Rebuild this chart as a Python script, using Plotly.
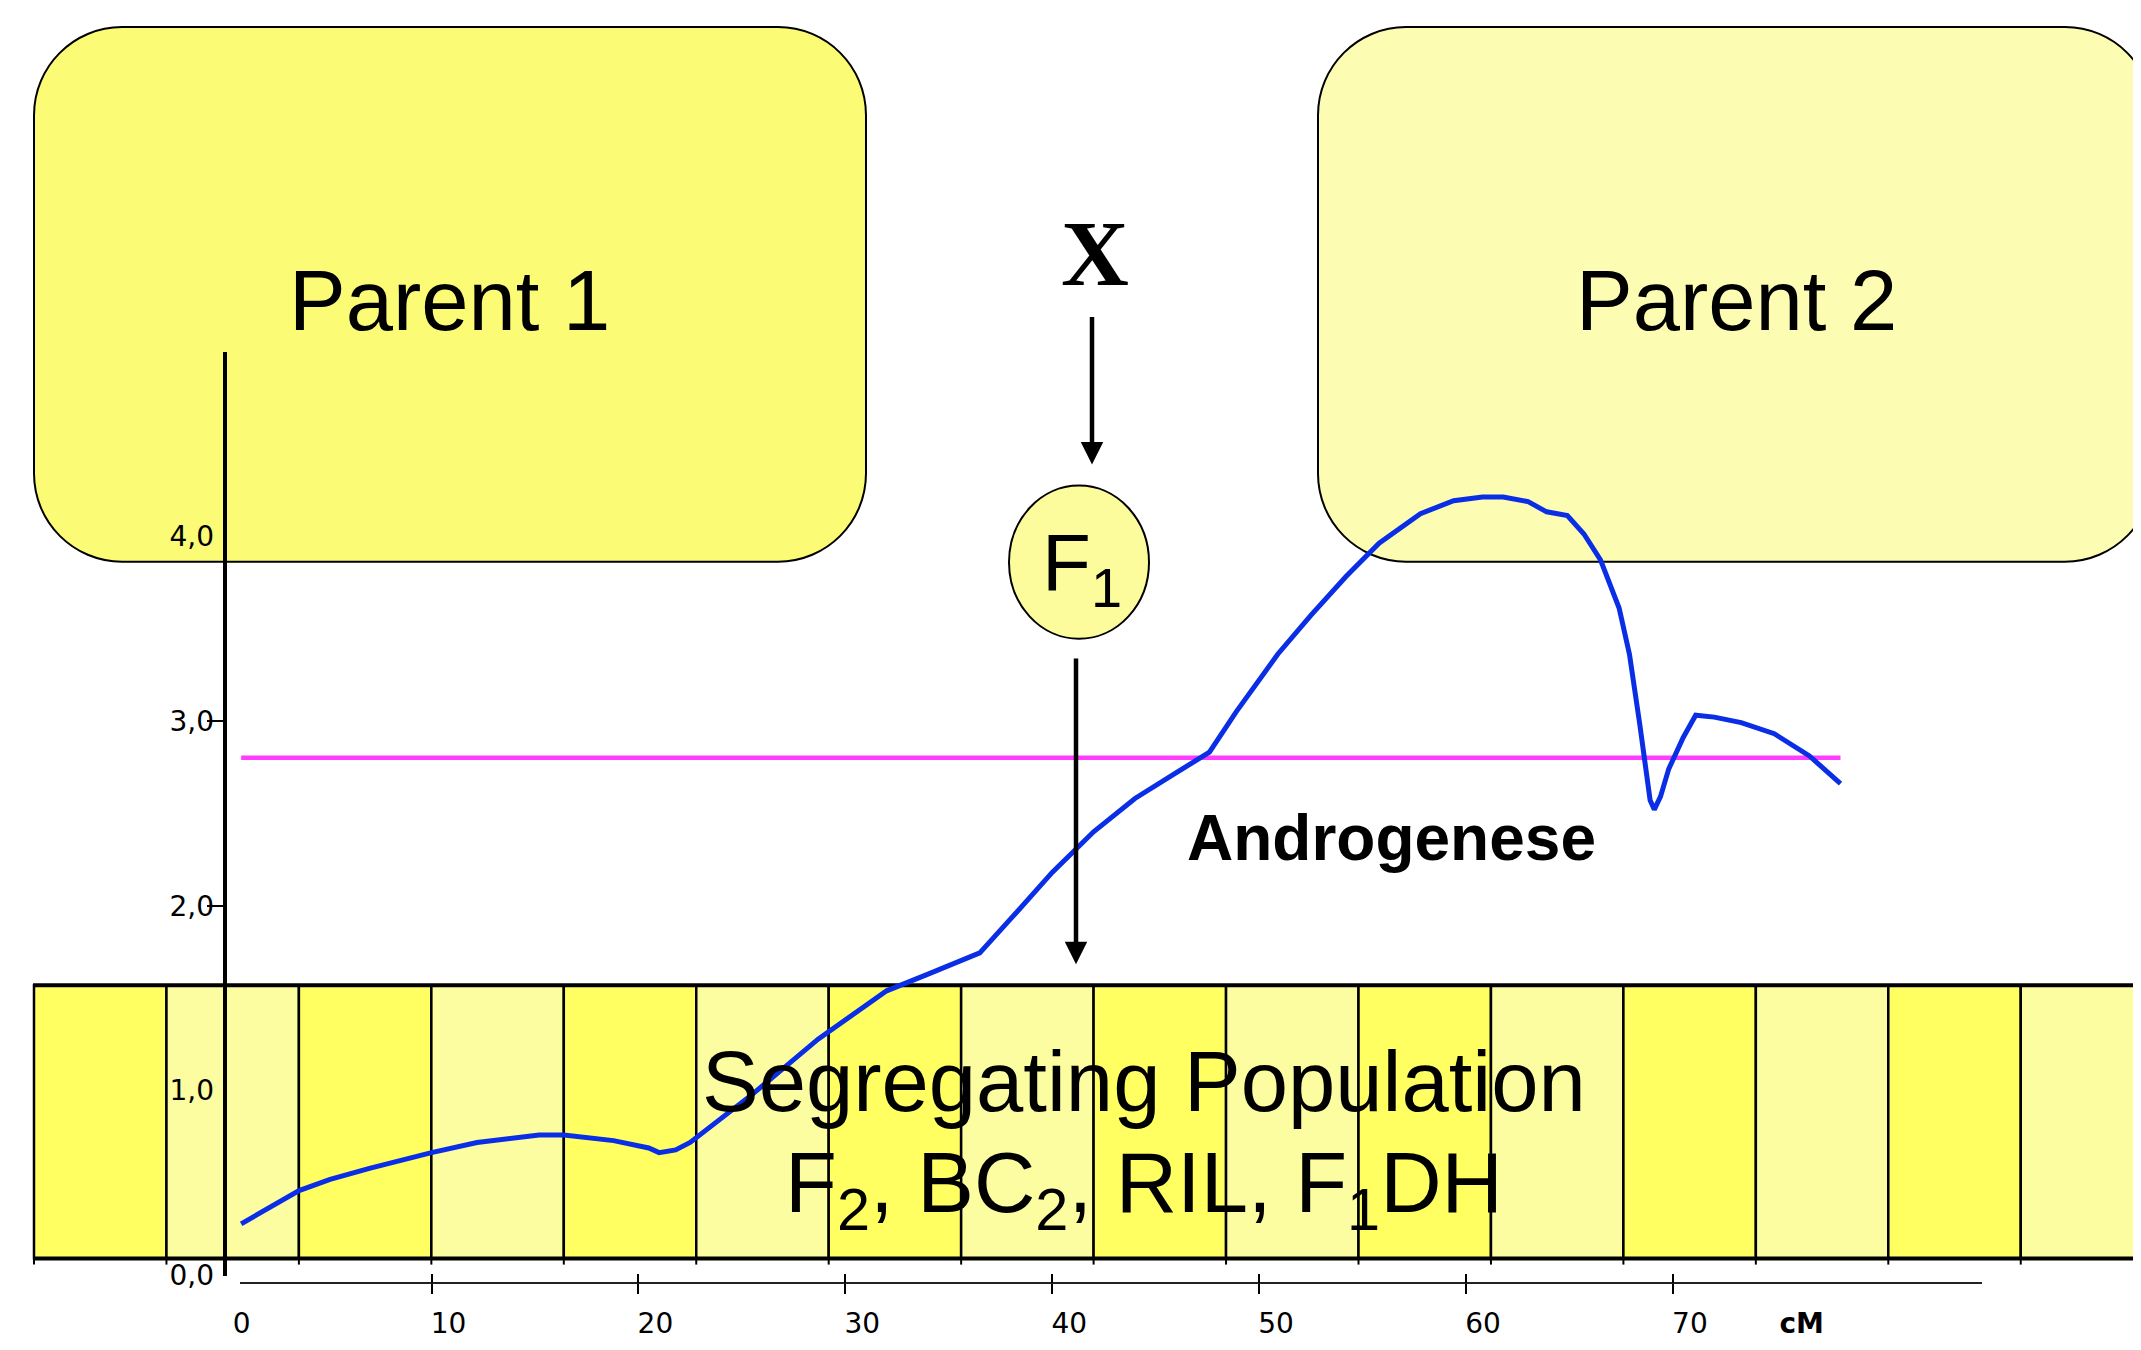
import plotly.graph_objects as go

# ---------------- data ----------------
pos_cm = [0.8, 3.6, 5.1, 7.0, 10.0, 12.2, 15.2, 16.4, 18.8, 20.5, 21.0, 21.8, 22.5, 25.5, 28.7,
          32.0, 34.0, 35.7, 36.5, 38.0, 40.0, 42.0, 44.0, 46.0, 47.6, 48.9, 50.9, 52.5, 54.2,
          55.8, 57.8, 59.4, 60.8, 61.8, 63.0, 63.9, 64.9, 65.7, 66.5, 67.4, 67.9, 68.4, 68.7,
          68.9, 69.1, 69.4, 69.8, 70.5, 71.1, 72.0, 73.3, 74.9, 76.6, 78.1]
lod = [0.28, 0.46, 0.52, 0.58, 0.665, 0.72, 0.76, 0.76, 0.73, 0.69, 0.665, 0.68, 0.72, 0.98, 1.28,
       1.54, 1.63, 1.71, 1.745, 1.93, 2.18, 2.40, 2.58, 2.72, 2.83, 3.05, 3.36, 3.57, 3.78,
       3.96, 4.12, 4.19, 4.21, 4.21, 4.185, 4.13, 4.11, 4.01, 3.87, 3.61, 3.36, 2.98, 2.76,
       2.57, 2.52, 2.59, 2.74, 2.91, 3.03, 3.02, 2.99, 2.93, 2.81, 2.66]
threshold_cm = [0.8, 78.1]
threshold_lod = [2.8, 2.8]

x_tick_vals = [0, 10, 20, 30, 40, 50, 60, 70]
x_tick_text = ["0", "10", "20", "30", "40", "50", "60", "70"]
x_unit_pos = 75.4
x_unit_text = "cM"
y_tick_vals = [0, 1, 2, 3, 4]
y_tick_text = ["0,0", "1,0", "2,0", "3,0", "4,0"]
y_marked_ticks = [2, 3]
x_marked_ticks = [10, 20, 30, 40, 50, 60, 70]

# ---------------- layout geometry (target pixels of the 2141x1350 picture) ----------------
W, H = 2141, 1350
OFF = 8                            # page body margin
FW, FH = W - 2 * OFF, H - 2 * OFF  # figure size so the page never overflows
KY = 0.986                         # observed vertical scale of the photographed page
X0PX, XPX = 224.6, 20.69           # pixel of 0 cM, pixels per cM
Y0PX, YPX = 1274.0, 184.7          # pixel of LOD 0, pixels per LOD unit


def px(x):
    return (x - OFF) / FW


def py(y):
    return 1 - ((y - OFF) / KY) / FH


def cm_at(xpix):
    return (xpix - X0PX) / XPX


def lod_at(ypix):
    return (Y0PX - ypix) / YPX


K = 0.5523


def rrect_path(x0, y0, x1, y1, rx, ry):
    P = lambda x, y: f"{px(x):.5f},{py(y):.5f}"
    return (
        f"M {P(x0 + rx, y0)} L {P(x1 - rx, y0)} "
        f"C {P(x1 - rx + K * rx, y0)} {P(x1, y0 + ry - K * ry)} {P(x1, y0 + ry)} "
        f"L {P(x1, y1 - ry)} "
        f"C {P(x1, y1 - ry + K * ry)} {P(x1 - rx + K * rx, y1)} {P(x1 - rx, y1)} "
        f"L {P(x0 + rx, y1)} "
        f"C {P(x0 + rx - K * rx, y1)} {P(x0, y1 - ry + K * ry)} {P(x0, y1 - ry)} "
        f"L {P(x0, y0 + ry)} "
        f"C {P(x0, y0 + ry - K * ry)} {P(x0 + rx - K * rx, y0)} {P(x0 + rx, y0)} Z"
    )


shapes = []
# parent boxes
shapes.append(dict(type="path", xref="paper", yref="paper", layer="below",
                   path=rrect_path(34, 27, 866, 561, 88, 88),
                   fillcolor="#FBFB76", line=dict(color="black", width=2)))
shapes.append(dict(type="path", xref="paper", yref="paper", layer="below",
                   path=rrect_path(1318, 27, 2153, 561, 88, 88),
                   fillcolor="#FCFCB2", line=dict(color="black", width=2)))
# F1 ellipse
shapes.append(dict(type="circle", xref="paper", yref="paper", layer="below",
                   x0=px(1009), x1=px(1149), y0=py(638), y1=py(485),
                   fillcolor="#FCFC9C", line=dict(color="black", width=2)))

# segregating population band
BAND_L, BAND_T, BAND_B, CELL = 34.0, 984.0, 1257.0, 132.45
bright, light = "#FFFF62", "#FCFCA0"
i = 0
x = BAND_L
while x < W:
    shapes.append(dict(type="rect", xref="paper", yref="paper", layer="below",
                       x0=px(x), x1=px(min(x + CELL, W + 5)), y0=py(BAND_B), y1=py(BAND_T),
                       fillcolor=bright if i % 2 == 0 else light,
                       line=dict(color="black", width=2.5)))
    shapes.append(dict(type="line", xref="paper", yref="paper", layer="below",
                       x0=px(x), x1=px(x), y0=py(BAND_B), y1=py(BAND_B + 6),
                       line=dict(color="black", width=2)))
    x += CELL
    i += 1
for yy in (BAND_T, BAND_B):
    shapes.append(dict(type="line", xref="paper", yref="paper", layer="below",
                       x0=px(BAND_L - 1), x1=px(W + 5), y0=py(yy), y1=py(yy),
                       line=dict(color="black", width=4)))

fig = go.Figure()

# data traces on the (hidden) main axes
fig.add_trace(go.Scatter(x=threshold_cm, y=threshold_lod, mode="lines",
                         line=dict(color="#FF3CFF", width=4.5), showlegend=False,
                         hoverinfo="skip"))
fig.add_trace(go.Scatter(x=pos_cm, y=lod, mode="lines",
                         line=dict(color="#0A2EE6", width=5), showlegend=False))
# empty traces hosting the visible axes
for xa in ("x2", "x3", "x4"):
    fig.add_trace(go.Scatter(x=[None], y=[None], xaxis=xa, yaxis="y2", showlegend=False,
                             hoverinfo="skip"))

tick_font = dict(family="DejaVu Sans, Verdana, sans-serif", size=28, color="black")

ax_x_lo, ax_x_hi = 240.0, 1982.0
lab_x_lo = 200.0
ax_y_top = 352.0
x_axis_y = 1281.0

annotations = []
big = dict(family="Liberation Sans, Arial, sans-serif", color="black")


def label(text, x, y, font):
    annotations.append(dict(text=text, x=px(x), y=py(y), xref="paper", yref="paper",
                            xanchor="center", yanchor="middle", showarrow=False, font=font))


label("Parent 1", 449, 300, dict(size=85, **big))
label("Parent 2", 1736, 300, dict(size=85, **big))
label("<b>X</b>", 1095, 253, dict(size=94, family="Liberation Serif, Times New Roman, serif",
                                  color="black"))
label("F<sub>1</sub>", 1082, 568, dict(size=80, **big))
label("<b>Androgenese</b>", 1391, 837, dict(size=64, **big))
label("Segregating Population", 1144, 1080, dict(size=85, **big))
label("F<sub>2</sub>, BC<sub>2</sub>, RIL, F<sub>1</sub>DH", 1144, 1187, dict(size=85, **big))

# arrows
for xa, y_tail, y_tip in ((1092, 317, 464), (1076, 660, 963)):
    annotations.append(dict(text="", x=px(xa), y=py(y_tip), xref="paper", yref="paper",
                            showarrow=True, ax=0, ay=-(y_tip - y_tail) / KY, arrowhead=2,
                            arrowsize=1.0, arrowwidth=4.5, arrowcolor="black", standoff=0))

fig.update_layout(
    width=FW, height=FH,
    margin=dict(l=0, r=0, t=0, b=0),
    paper_bgcolor="white", plot_bgcolor="rgba(0,0,0,0)",
    showlegend=False,
    shapes=shapes,
    annotations=annotations,
    xaxis=dict(visible=False, range=[cm_at(OFF), cm_at(OFF + FW)], domain=[0, 1],
               fixedrange=True),
    yaxis=dict(visible=False, range=[lod_at(OFF + FH * KY), lod_at(OFF)], domain=[0, 1],
               fixedrange=True),
    # axis line with downward ticks
    xaxis2=dict(domain=[px(ax_x_lo), px(ax_x_hi)], range=[cm_at(ax_x_lo), cm_at(ax_x_hi)],
                anchor="free", position=py(x_axis_y), showline=True, linecolor="#222",
                linewidth=2, showgrid=False, zeroline=False, showticklabels=False,
                tickmode="array", tickvals=x_marked_ticks, ticks="outside", ticklen=10,
                tickwidth=2, tickcolor="black"),
    # upward part of the crossing ticks
    xaxis4=dict(domain=[px(ax_x_lo), px(ax_x_hi)], range=[cm_at(ax_x_lo), cm_at(ax_x_hi)],
                anchor="free", position=py(x_axis_y), overlaying="x2", showline=False,
                showgrid=False, zeroline=False, showticklabels=False,
                tickmode="array", tickvals=x_marked_ticks, ticks="inside", ticklen=9,
                tickwidth=2, tickcolor="black"),
    # tick labels
    xaxis3=dict(domain=[px(lab_x_lo), px(ax_x_hi)], range=[cm_at(lab_x_lo), cm_at(ax_x_hi)],
                anchor="free", position=py(x_axis_y), showline=False, showgrid=False,
                zeroline=False, tickmode="array", tickvals=x_tick_vals + [x_unit_pos],
                ticktext=x_tick_text + ["<b>" + x_unit_text + "</b>"],
                ticks="", tickfont=tick_font, ticklabelshift=17, ticklabelstandoff=21),
    yaxis2=dict(domain=[py(Y0PX), py(ax_y_top)], range=[0, lod_at(ax_y_top)],
                anchor="free", position=px(X0PX), showline=True, linecolor="black",
                linewidth=4, showgrid=False, zeroline=False,
                tickmode="array", tickvals=y_tick_vals, ticktext=y_tick_text,
                ticks="", tickfont=tick_font, ticklabelstandoff=3,
                minor=dict(tickmode="array", tickvals=y_marked_ticks, ticks="outside",
                           ticklen=16, tickwidth=2, tickcolor="black")),
)

fig.write_html("out.html")
